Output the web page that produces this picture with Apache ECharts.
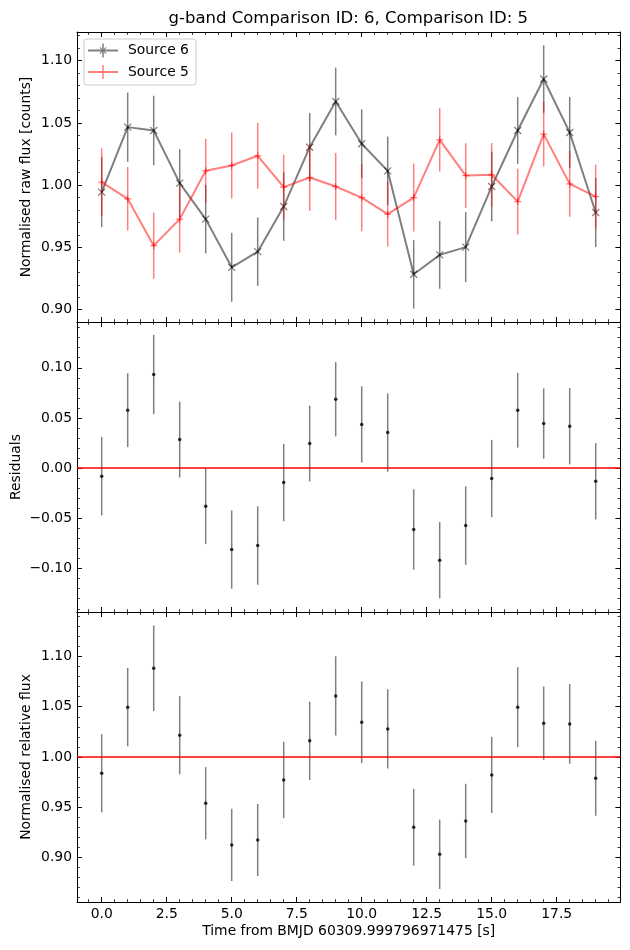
<!DOCTYPE html>
<html lang="en">
<head>
<meta charset="UTF-8">
<script src="https://cdn.jsdelivr.net/npm/echarts@6/dist/echarts.min.js"></script>
<style>
    html, body { margin: 0; padding: 0; background: #fff; }
    #chart { width: 630px; height: 950px; }
</style>
</head>
<body>
<div id="chart"></div>
<script>
    // time (s) of each frame
    var times = [0, 1, 2, 3, 4, 5, 6, 7, 8, 9, 10, 11, 12, 13, 14, 15, 16, 17, 18, 19];

    // top panel: raw normalised flux of the two comparison stars
    var src6Flux = [0.9944, 1.0466, 1.0439, 1.0016, 0.9727, 0.9340, 0.9466, 0.9828, 1.0305, 1.0672,
                    1.0332, 1.0115, 0.9285, 0.9440, 0.9502, 0.9989, 1.0439, 1.0852, 1.0423, 0.9780];
    var src6Err = [0.0280, 0.0278, 0.0279, 0.0272, 0.0275, 0.0277, 0.0275, 0.0275, 0.0275, 0.0272,
                   0.0277, 0.0275, 0.0276, 0.0272, 0.0281, 0.0280, 0.0268, 0.0271, 0.0285, 0.0277];
    var src5Flux = [1.0024, 0.9890, 0.9514, 0.9727, 1.0115, 1.0158, 1.0236, 0.9984, 1.0061, 0.9989,
                    0.9900, 0.9767, 0.9900, 1.0364, 1.0077, 1.0083, 0.9868, 1.0410, 1.0010, 0.9908];
    var src5Err = [0.0272, 0.0255, 0.0266, 0.0270, 0.0257, 0.0265, 0.0265, 0.0260, 0.0268, 0.0270,
                   0.0270, 0.0261, 0.0273, 0.0255, 0.0260, 0.0255, 0.0264, 0.0260, 0.0264, 0.0256];

    // middle panel: residuals
    var resid = [-0.0080, 0.0578, 0.0933, 0.0285, -0.0378, -0.0810, -0.0770, -0.0143, 0.0246, 0.0687,
                 0.0435, 0.0355, -0.0610, -0.0916, -0.0571, -0.0103, 0.0578, 0.0445, 0.0418, -0.0130];
    var residErr = [0.0390, 0.0368, 0.0395, 0.0378, 0.0378, 0.0390, 0.0390, 0.0385, 0.0377, 0.0370,
                    0.0380, 0.0390, 0.0400, 0.0380, 0.0390, 0.0385, 0.0373, 0.0350, 0.0380, 0.0380];

    // bottom panel: relative flux
    var relFlux = [0.9837, 1.0496, 1.0884, 1.0216, 0.9538, 0.9123, 0.9172, 0.9770, 1.0160, 1.0608,
                   1.0346, 1.0279, 0.9299, 0.9030, 0.9362, 0.9820, 1.0496, 1.0336, 1.0329, 0.9787];
    var relErr = [0.0389, 0.0390, 0.0427, 0.0390, 0.0360, 0.0360, 0.0360, 0.0380, 0.0390, 0.0395,
                  0.0407, 0.0395, 0.0382, 0.0346, 0.0370, 0.0380, 0.0397, 0.0366, 0.0397, 0.0374];

    // tick labels
    var xTicks = [0, 2.5, 5, 7.5, 10, 12.5, 15, 17.5];
    var fluxTicks = [0.90, 0.95, 1.00, 1.05, 1.10];
    var residTicks = [-0.10, -0.05, 0.00, 0.05, 0.10];

    var titleText = 'g-band Comparison ID: 6, Comparison ID: 5';
    var xName = 'Time from BMJD 60309.999796971475 [s]';
    var yNames = ['Normalised raw flux [counts]', 'Residuals', 'Normalised relative flux'];

    var FONT = 'DejaVu Sans';
    var xMin = -0.95, xMax = 19.95;
    var yRanges = [[0.8901, 1.1230], [-0.1432, 0.1456], [0.8554, 1.1444]];
    var yMajors = [fluxTicks, residTicks, fluxTicks];
    var yNameGaps = [44, 54, 44];
    var gridTops = [32, 322, 612];

    // minor ticks between two limits at a fixed step, skipping majors
    function minorTicks(lo, hi, step, majorStep) {
        var out = [];
        for (var k = Math.ceil(lo / step - 1e-9); k * step <= hi + 1e-9; k++) {
            var v = Math.round(k * step * 1000) / 1000;
            var r = v / majorStep;
            if (Math.abs(r - Math.round(r)) < 1e-6) continue;
            if (v < lo || v > hi) continue;
            out.push(v);
        }
        return out;
    }

    function zip(a, b, c) {
        return a.map(function (v, i) { return c ? [v, b[i], c[i]] : [v, b[i]]; });
    }

    function fmtNum(v, d) {
        var s = Math.abs(v).toFixed(d);
        return (v < -1e-9 ? '\u2212' : '') + s;
    }

    var labelStyle = { color: '#000', fontSize: 13.9, fontFamily: FONT };
    var black = { color: '#000', width: 1 };

    var xMinor = minorTicks(xMin, xMax, 0.5, 2.5);
    var xAxes = [], yAxes = [], grids = [];
    for (var g = 0; g < 3; g++) {
        grids.push({ left: 77, right: 9.6, top: gridTops[g], height: 290, outerBoundsMode: 'none' });
        var last = g === 2;
        ['bottom', 'top'].forEach(function (pos) {
            xAxes.push({
                type: 'value', gridIndex: g, position: pos, min: xMin, max: xMax,
                splitLine: { show: false },
                axisLine: { show: true, onZero: false, lineStyle: black },
                axisTick: { show: true, inside: true, length: 5, customValues: xTicks, lineStyle: black },
                axisLabel: {
                    show: last && pos === 'bottom', customValues: xTicks, margin: 5,
                    formatter: function (v) { return v.toFixed(1); }, color: '#000', fontSize: 13.9, fontFamily: FONT
                },
                name: last && pos === 'bottom' ? xName : '', nameLocation: 'middle', nameGap: 22,
                nameMoveOverlap: false, nameTextStyle: labelStyle
            });
            xAxes.push({
                type: 'value', gridIndex: g, position: pos, min: xMin, max: xMax,
                splitLine: { show: false },
                axisLine: { show: false, onZero: false },
                axisTick: { show: true, inside: true, length: 2.8, customValues: xMinor, lineStyle: { color: '#000', width: 0.8 } },
                axisLabel: { show: false }
            });
        });
        var yr = yRanges[g];
        var yMinor = minorTicks(yr[0], yr[1], 0.01, 0.05);
        ['left', 'right'].forEach(function (pos) {
            yAxes.push({
                type: 'value', gridIndex: g, position: pos, min: yr[0], max: yr[1],
                splitLine: { show: false },
                axisLine: { show: true, onZero: false, lineStyle: black },
                axisTick: { show: true, inside: true, length: 5, customValues: yMajors[g], lineStyle: black },
                axisLabel: {
                    show: pos === 'left', customValues: yMajors[g], margin: 5,
                    formatter: function (v) { return fmtNum(v, 2); }, color: '#000', fontSize: 13.9, fontFamily: FONT
                },
                name: pos === 'left' ? yNames[g] : '', nameLocation: 'middle', nameRotate: 90,
                nameGap: yNameGaps[g], nameMoveOverlap: false, nameTextStyle: labelStyle
            });
            yAxes.push({
                type: 'value', gridIndex: g, position: pos, min: yr[0], max: yr[1],
                splitLine: { show: false },
                axisLine: { show: false, onZero: false },
                axisTick: { show: true, inside: true, length: 2.8, customValues: yMinor, lineStyle: { color: '#000', width: 0.8 } },
                axisLabel: { show: false }
            });
        });
    }

    // error bar plus optional marker ('x' or '+')
    function errorBar(marker, size) {
        return function (params, api) {
            var x = api.value(0), y = api.value(1), e = api.value(2);
            var lo = api.coord([x, y - e]), hi = api.coord([x, y + e]), c = api.coord([x, y]);
            var col = api.visual('color');
            var kids = [{ type: 'line', shape: { x1: lo[0], y1: lo[1], x2: hi[0], y2: hi[1] }, style: { stroke: col, lineWidth: 1.5 } }];
            if (marker === 'x') {
                kids.push({ type: 'line', shape: { x1: c[0] - size, y1: c[1] - size, x2: c[0] + size, y2: c[1] + size }, style: { stroke: col, lineWidth: 1.3 } });
                kids.push({ type: 'line', shape: { x1: c[0] - size, y1: c[1] + size, x2: c[0] + size, y2: c[1] - size }, style: { stroke: col, lineWidth: 1.3 } });
            } else if (marker === '+') {
                kids.push({ type: 'line', shape: { x1: c[0] - size, y1: c[1], x2: c[0] + size, y2: c[1] }, style: { stroke: col, lineWidth: 1.3 } });
                kids.push({ type: 'line', shape: { x1: c[0], y1: c[1] - size, x2: c[0], y2: c[1] + size }, style: { stroke: col, lineWidth: 1.3 } });
            }
            return { type: 'group', children: kids };
        };
    }

    var GREY = 'rgba(0,0,0,0.5)', PINK = 'rgba(255,0,0,0.5)';
    var iconX = 'path://M0,6 L30,6 L30,8 L0,8 Z M14.25,0 L15.75,0 L15.75,14 L14.25,14 Z ' +
        'M11.5,4.2 L12.2,3.5 L18.5,9.8 L17.8,10.5 Z M17.8,3.5 L18.5,4.2 L12.2,10.5 L11.5,9.8 Z';
    var iconPlus = 'path://M0,6 L30,6 L30,8 L0,8 Z M14.25,0 L15.75,0 L15.75,14 L14.25,14 Z';

    function refLine(v) {
        return {
            silent: true, symbol: ['none', 'none'], label: { show: false }, animation: false,
            lineStyle: { color: '#ff0000', width: 1.5, type: 'solid' }, data: [{ yAxis: v }]
        };
    }

    var myChart = echarts.init(document.getElementById('chart'));
    var option = {
        animation: false,
        backgroundColor: '#fff',
        title: {
            text: titleText, left: 168.5, top: 10, padding: 0,
            textStyle: { color: '#000', fontSize: 16.5, fontWeight: 'normal', fontFamily: FONT }
        },
        legend: {
            left: 84, top: 39, orient: 'vertical', itemWidth: 30, itemHeight: 14, itemGap: 7.5,
            padding: [4.5, 7, 6, 4], borderColor: '#cccccc', borderWidth: 1, borderRadius: 3,
            backgroundColor: 'rgba(255,255,255,0.8)', selectedMode: false,
            textStyle: { color: '#000', fontSize: 13.9, fontFamily: FONT, padding: [0, 0, 0, 5] },
            data: [
                { name: 'Source 6', icon: iconX, itemStyle: { color: GREY, borderWidth: 0 } },
                { name: 'Source 5', icon: iconPlus, itemStyle: { color: PINK, borderWidth: 0 } }
            ]
        },
        grid: grids,
        xAxis: xAxes,
        yAxis: yAxes,
        series: [
            {
                type: 'line', name: 'Source 6', xAxisIndex: 0, yAxisIndex: 0, data: zip(times, src6Flux),
                showSymbol: false, lineStyle: { color: GREY, width: 2 }, itemStyle: { color: GREY }, silent: true, z: 2
            },
            {
                type: 'custom', name: 'Source 6', xAxisIndex: 0, yAxisIndex: 0, data: zip(times, src6Flux, src6Err),
                renderItem: errorBar('x', 3.5), itemStyle: { color: GREY }, silent: true, z: 3
            },
            {
                type: 'line', name: 'Source 5', xAxisIndex: 0, yAxisIndex: 0, data: zip(times, src5Flux),
                showSymbol: false, lineStyle: { color: PINK, width: 2 }, itemStyle: { color: PINK }, silent: true, z: 4
            },
            {
                type: 'custom', name: 'Source 5', xAxisIndex: 0, yAxisIndex: 0, data: zip(times, src5Flux, src5Err),
                renderItem: errorBar('+', 3.5), itemStyle: { color: PINK }, silent: true, z: 5
            },
            {
                type: 'custom', name: 'Residuals err', xAxisIndex: 4, yAxisIndex: 4, data: zip(times, resid, residErr),
                renderItem: errorBar(null, 0), itemStyle: { color: GREY }, silent: true, z: 2
            },
            {
                type: 'scatter', name: 'Residuals', xAxisIndex: 4, yAxisIndex: 4, data: zip(times, resid),
                symbolSize: 3.5, itemStyle: { color: '#000' }, silent: true, z: 4, markLine: refLine(0)
            },
            {
                type: 'custom', name: 'Relative err', xAxisIndex: 8, yAxisIndex: 8, data: zip(times, relFlux, relErr),
                renderItem: errorBar(null, 0), itemStyle: { color: GREY }, silent: true, z: 2
            },
            {
                type: 'scatter', name: 'Relative', xAxisIndex: 8, yAxisIndex: 8, data: zip(times, relFlux),
                symbolSize: 3.5, itemStyle: { color: '#000' }, silent: true, z: 4, markLine: refLine(1)
            }
        ]
    };
    myChart.setOption(option);
</script>
</body>
</html>
